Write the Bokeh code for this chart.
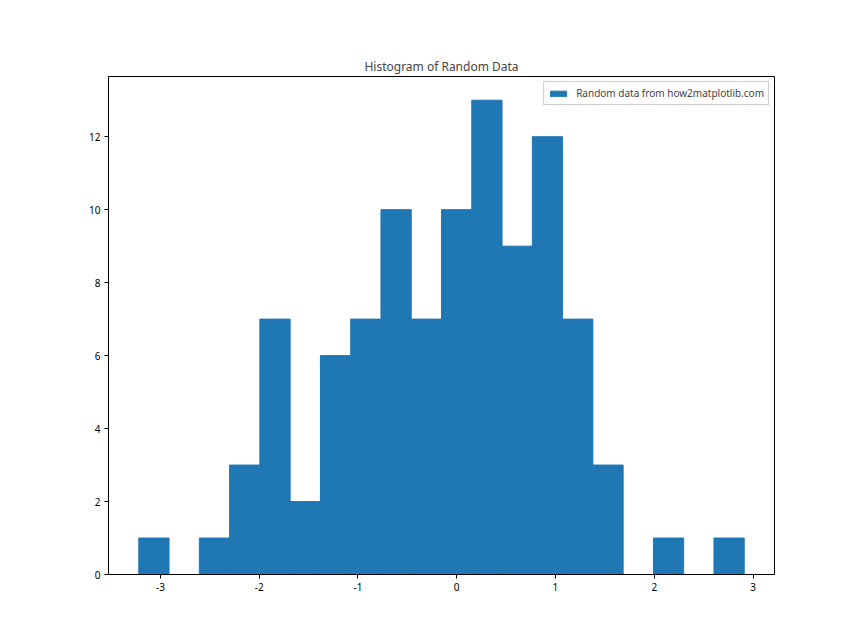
from bokeh.plotting import figure
from bokeh.models import Range1d, FixedTicker, Legend, LegendItem, PrintfTickFormatter
from bokeh.embed import file_html
from bokeh.resources import INLINE

# Histogram data (20 bins)
bin_start = -3.219
bin_end = 2.911
counts = [1, 0, 1, 3, 7, 2, 6, 7, 10, 7, 10, 13, 9, 12, 7, 3, 0, 1, 0, 1]
x_ticks = [-3, -2, -1, 0, 1, 2, 3]
y_ticks = [0, 2, 4, 6, 8, 10, 12]
title = "Histogram of Random Data"
legend_label = "Random data from how2matplotlib.com"

n = len(counts)
w = (bin_end - bin_start) / n
lefts = [bin_start + i * w for i in range(n)]
rights = [bin_start + (i + 1) * w for i in range(n)]
bottoms = [0] * n

span = bin_end - bin_start
xr = Range1d(bin_start - 0.05 * span, bin_end + 0.05 * span)
yr = Range1d(0, max(counts) * 1.05)

FONT = "Noto Sans"
BLUE = "#1f77b4"

p = figure(width=859, height=644, output_backend="svg", toolbar_location=None,
           x_range=xr, y_range=yr,
           min_border_left=108, min_border_right=85,
           min_border_top=76, min_border_bottom=70)
p.background_fill_color = "white"
p.border_fill_color = "white"
p.grid.visible = False
p.outline_line_color = "black"
p.outline_line_width = 1

r = p.quad(left=lefts, right=rights, bottom=bottoms, top=counts,
           fill_color=BLUE, line_color=BLUE, line_width=1)

p.title.text = title
p.title.align = "center"
p.title.text_font = FONT
p.title.text_font_size = "12px"
p.title.text_font_style = "normal"
p.title.standoff = 4

for ax in (p.xaxis[0], p.yaxis[0]):
    ax.major_label_text_font = FONT
    ax.major_label_text_font_size = "10px"
    ax.major_label_text_color = "black"
    ax.minor_tick_line_color = None
    ax.major_tick_out = 4
    ax.major_tick_in = 0
    ax.axis_line_color = "black"
    ax.major_tick_line_color = "black"
    ax.major_label_standoff = 4
    ax.formatter = PrintfTickFormatter(format="%d")

p.xaxis[0].ticker = FixedTicker(ticks=x_ticks)
p.yaxis[0].ticker = FixedTicker(ticks=y_ticks)

legend = Legend(items=[LegendItem(label=legend_label, renderers=[r])],
                location="top_right")
legend.label_text_font = FONT
legend.label_text_font_size = "10px"
legend.glyph_width = 20
legend.glyph_height = 7
legend.border_line_color = "#cccccc"
legend.border_line_alpha = 1
legend.background_fill_alpha = 0.8
legend.margin = 5
legend.padding = 4
legend.spacing = 0
legend.label_standoff = 8
legend.label_height = 12
p.add_layout(legend)

open("out.html", "w").write(file_html(p, INLINE))
